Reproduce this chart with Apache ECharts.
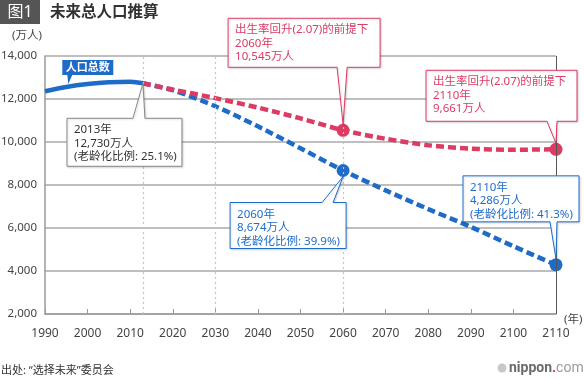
<!DOCTYPE html>
<html>
<head>
<meta charset="utf-8">
<script src="https://cdn.jsdelivr.net/npm/echarts@6/dist/echarts.min.js"></script>
<style>
html,body{margin:0;padding:0;background:#fff;}
#c{width:584px;height:380px;}
</style>
</head>
<body>
<div id="c"></div>
<script>
// ---- data ----
const histYears = [1990, 1995, 2000, 2005, 2010, 2013];
const histValues = [12361, 12557, 12693, 12777, 12806, 12730];
const projYears = [2013, 2020, 2030, 2040, 2050, 2060, 2070, 2080, 2090, 2100, 2110];
const baseValues = [12730, 12410, 11662, 10728, 9708, 8674, 7750, 6880, 6050, 5150, 4286];
const recoveryValues = [12730, 12440, 12040, 11600, 11100, 10545, 10150, 9850, 9690, 9640, 9661];
const markedYears = [2060, 2110];
const guideYears = [2013, 2030, 2060];
const xMin = 1990, xMax = 2110, xStep = 10;
const yMin = 2000, yMax = 14000, yStep = 2000;

const BLUE = '#1f6cc8';
const RED = '#dc3b62';
const FONT = '"Noto Sans", "Noto Sans CJK SC", sans-serif';

const callouts = [
  {x: 2013, y: 12730, color: '#888', text: '#333', lines: ['2013年', '12,730万人', '(老龄化比例: 25.1%)'], box: [-76, 39, 35, 83], base: [-10, 2], tipGap: 0},
  {x: 2060, y: 10545, color: RED, text: RED, lines: ['出生率回升(2.07)的前提下', '2060年', '10,545万人'], box: [-115, 37, -112, -63], base: [-6, 4], tipGap: 6},
  {x: 2110, y: 9661, color: RED, text: RED, lines: ['出生率回升(2.07)的前提下', '2110年', '9,661万人'], box: [-130, 21, -79, -28], base: [-9, 1], tipGap: 6},
  {x: 2060, y: 8674, color: BLUE, text: BLUE, lines: ['2060年', '8,674万人', '(老龄化比例: 39.9%)'], box: [-113, 3, 32, 78], base: [-21, -10], tipGap: 6},
  {x: 2110, y: 4286, color: BLUE, text: BLUE, lines: ['2110年', '4,286万人', '(老龄化比例: 41.3%)'], box: [-93, 23, -89, -43], base: [-6, 1], tipGap: 6}
];

function pairs(xs, ys, marked) {
  return xs.map((x, i) => {
    const item = {value: [x, ys[i]]};
    if (marked) {
      item.symbol = marked.indexOf(x) >= 0 ? 'circle' : 'none';
    }
    return item;
  });
}

const chart = echarts.init(document.getElementById('c'), null, {renderer: 'canvas'});

const option = {
  animation: false,
  backgroundColor: '#fff',
  grid: {left: 45, right: 28, top: 56, bottom: 66, show: false, containLabel: false, outerBoundsMode: 'none'},
  xAxis: {
    type: 'value', min: xMin, max: xMax, interval: xStep,
    axisLine: {show: true, lineStyle: {color: '#9a9a9a', width: 1.5}},
    axisTick: {show: true, inside: true, length: 5, lineStyle: {color: '#9a9a9a', width: 1}},
    axisLabel: {margin: 14, color: '#444', fontSize: 12, fontFamily: FONT, formatter: v => String(v)},
    splitLine: {show: false}
  },
  yAxis: {
    type: 'value', min: yMin, max: yMax, interval: yStep,
    axisLine: {show: true, lineStyle: {color: '#9a9a9a', width: 1.5}},
    axisTick: {show: false},
    axisLabel: {margin: 8, color: '#444', fontSize: 11.5, fontFamily: FONT, formatter: v => v.toLocaleString('en-US')},
    splitLine: {show: true, lineStyle: {color: '#a8a8a8', width: 1.5}}
  },
  series: [
    {
      type: 'line', data: pairs(histYears, histValues), smooth: 0.4, showSymbol: false,
      lineStyle: {color: BLUE, width: 4.5}, itemStyle: {color: BLUE}, z: 3,
      markLine: {
        silent: true, symbol: ['none', 'none'], label: {show: false},
        data: guideYears.map(y => ({xAxis: y, lineStyle: {color: '#c4c4c4', width: 1.2, type: [2, 3]}}))
          .concat([{xAxis: xMax, lineStyle: {color: '#555', width: 1, type: 'solid'}}])
      }
    },
    {
      type: 'line', data: pairs(projYears, baseValues, markedYears), smooth: 0.3, showSymbol: true,
      symbolSize: 13, lineStyle: {color: BLUE, width: 4.5, type: [8, 4]}, itemStyle: {color: BLUE}, z: 3
    },
    {
      type: 'line', data: pairs(projYears, recoveryValues, markedYears), smooth: 0.3, showSymbol: true,
      symbolSize: 13, lineStyle: {color: RED, width: 4.5, type: [8, 4]}, itemStyle: {color: RED}, z: 4
    }
  ]
};
chart.setOption(option);

// ---- annotations positioned from the chart's own scales ----
const g = [];
// title
g.push({type: 'rect', shape: {x: 0, y: 0, width: 40, height: 24}, style: {fill: '#555'}});
g.push({type: 'text', style: {text: '图1', x: 20, y: 12, align: 'center', verticalAlign: 'middle', fill: '#fff', fontSize: 16, fontFamily: FONT}});
g.push({type: 'text', style: {text: '未来总人口推算', x: 50, y: 13, verticalAlign: 'middle', fill: '#333', fontSize: 15.5, fontWeight: 'bold', fontFamily: FONT}});
g.push({type: 'text', style: {text: '(万人)', x: 12, y: 36, verticalAlign: 'middle', fill: '#444', fontSize: 11.5, fontFamily: FONT}});
const xEnd = chart.convertToPixel({gridIndex: 0}, [xMax, yMin]);
g.push({type: 'text', style: {text: '(年)', x: xEnd[0] + 8, y: xEnd[1] + 6, verticalAlign: 'middle', fill: '#444', fontSize: 11.5, fontFamily: FONT}});
g.push({type: 'text', style: {text: '出处: “选择未来”委员会', x: 1, y: 371, verticalAlign: 'middle', fill: '#333', fontSize: 11, fontFamily: FONT}});
// nippon.com logo
g.push({type: 'circle', shape: {cx: 502, cy: 368, r: 4.5}, style: {fill: '#c8c8c8'}});
g.push({type: 'text', style: {
  text: '{a|nippon}{b|.}{c|com}', x: 509, y: 368, verticalAlign: 'middle',
  rich: {
    a: {fontSize: 14, fontWeight: 'bold', fill: '#6a6a6a', fontFamily: 'Roboto, sans-serif'},
    b: {fontSize: 14, fontWeight: 'bold', fill: '#e0304e', fontFamily: 'Roboto, sans-serif'},
    c: {fontSize: 14, fill: '#9a9a9a', fontFamily: 'Roboto, sans-serif'}
  }
}});

// "人口总数" tag
const tagP = chart.convertToPixel({gridIndex: 0}, [1995, 12557]);
{
  const px = tagP[0], py = tagP[1] - 3;
  const L = px - 4, R = px + 47, T = py - 24, B = py - 9;
  g.push({type: 'polygon', z: 10, shape: {points: [[L, T], [R, T], [R, B], [px + 6, B], [px + 2, py], [px + 1, B], [L, B]]}, style: {fill: BLUE}});
  g.push({type: 'text', z: 11, style: {text: '人口总数', x: (L + R) / 2, y: (T + B) / 2, align: 'center', verticalAlign: 'middle', fill: '#fff', fontSize: 11, fontWeight: 'bold', fontFamily: FONT}});
}

callouts.forEach(c => {
  const p = chart.convertToPixel({gridIndex: 0}, [c.x, c.y]);
  const px = p[0], py = p[1];
  const L = px + c.box[0], R = px + c.box[1], T = py + c.box[2], B = py + c.box[3];
  const b1 = px + c.base[0], b2 = px + c.base[1];
  let pts;
  if (T > py) { // box below point, pointer on top edge
    const tip = [px, py + c.tipGap];
    pts = [[L, T], [b1, T], tip, [b2, T], [R, T], [R, B], [L, B]];
  } else { // box above point, pointer on bottom edge
    const tip = [px, py - c.tipGap];
    pts = [[L, T], [R, T], [R, B], [b2, B], tip, [b1, B], [L, B]];
  }
  g.push({type: 'polygon', z: 10, shape: {points: pts}, style: {fill: '#fff', stroke: c.color, lineWidth: 1, shadowBlur: 2, shadowColor: 'rgba(0,0,0,0.15)', shadowOffsetX: 1, shadowOffsetY: 1}});
  g.push({type: 'text', z: 11, style: {
    text: c.lines.join('\n'), x: L + 7, y: T + 5, verticalAlign: 'top',
    fill: c.text, fontSize: 11.5, lineHeight: 13.5, fontFamily: FONT
  }});
});

chart.setOption({graphic: {elements: g}});
</script>
</body>
</html>
